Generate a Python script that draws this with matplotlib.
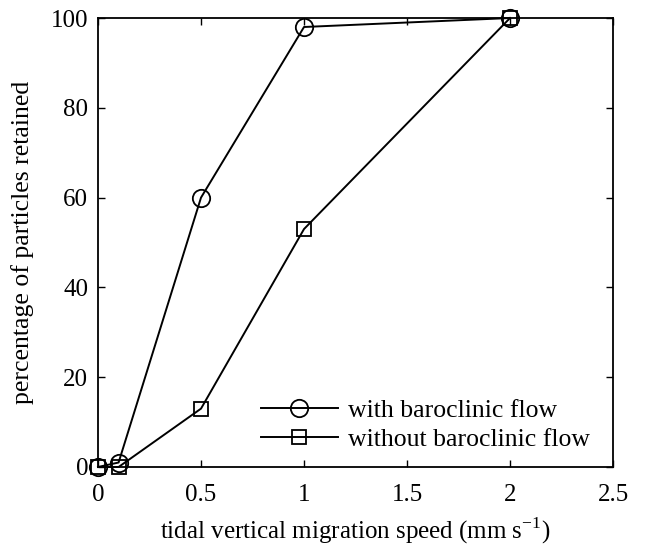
import matplotlib
matplotlib.use("Agg")
import matplotlib.pyplot as plt

speed = [0, 0.1, 0.5, 1, 2]
with_baroclinic = [0, 1, 60, 98, 100]
without_baroclinic = [0, 0, 13, 53, 100]
xticks = [0, 0.5, 1, 1.5, 2, 2.5]
xticklabels = ["0", "0.5", "1", "1.5", "2", "2.5"]
yticks = [0, 20, 40, 60, 80, 100]

plt.rcParams['font.family'] = ['Liberation Serif', 'DejaVu Serif']
plt.rcParams['mathtext.fontset'] = 'custom'
plt.rcParams['mathtext.rm'] = 'Liberation Serif'
fig = plt.figure(figsize=(6.46, 5.46), dpi=100)
ax = fig.add_axes([0.1517, 0.1447, 0.949 - 0.1517, 0.967 - 0.1447])

ax.plot(speed, with_baroclinic, color='black', lw=1.4, marker='o', ms=12.5,
        mfc='none', mec='black', mew=1.3, label='with baroclinic flow')
ax.plot(speed, without_baroclinic, color='black', lw=1.4, marker='s', ms=9.5,
        mfc='none', mec='black', mew=1.3, label='without baroclinic flow')

ax.set_xlim(0, 2.5)
ax.set_ylim(0, 100)
ax.set_xticks(xticks)
ax.set_xticklabels(xticklabels)
ax.set_yticks(yticks)
ax.tick_params(direction='in', top=True, right=True, labelsize=18, length=5, width=1)
ax.tick_params(axis='x', pad=12)
ax.tick_params(axis='y', pad=7)
for s in ax.spines.values():
    s.set_linewidth(1.3)
ax.set_xlabel('tidal vertical migration speed (mm s$^{\\mathrm{-1}}$)', fontsize=18, labelpad=7)
ax.set_ylabel('percentage of particles retained', fontsize=18.5, labelpad=12)
ax.legend(loc='lower right', frameon=False, fontsize=18.5, handlelength=3.0,
          handletextpad=0.4, bbox_to_anchor=(0.955, 0.035), borderaxespad=0,
          borderpad=0, labelspacing=0.25)
for l in ax.lines:
    l.set_clip_on(False)

fig.savefig('out.png', dpi=100)
